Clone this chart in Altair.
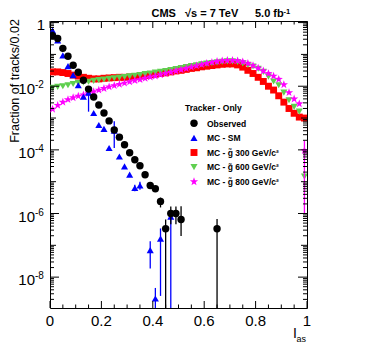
import altair as alt
import pandas as pd

W, H = 257, 287
FONT = "Liberation Sans"

# ---------------- data (log10 of fraction per 0.02 bin) ----------------
obs_x = [0.01, 0.03, 0.05, 0.07, 0.09, 0.11, 0.13, 0.15, 0.17, 0.19, 0.21, 0.23, 0.25,
         0.27, 0.29, 0.31, 0.33, 0.35, 0.37, 0.39, 0.41, 0.43, 0.45, 0.47, 0.49, 0.51, 0.65]
obs_log = [-0.41, -0.5, -0.81, -1.06, -1.34, -1.56, -1.81, -2.09, -2.34, -2.59, -2.84, -3.09,
           -3.375, -3.6, -3.84, -4.09, -4.31, -4.5, -4.78, -5.12, -5.22, -5.62, -6.48, -6.0,
           -6.0, -6.19, -6.48]
obs_err_x = [0.39, 0.41, 0.43, 0.45, 0.47, 0.49, 0.51, 0.65]
obs_err_hi = [-5.07, -5.17, -5.5, -6.19, -5.78, -5.78, -5.77, -6.17]
obs_err_lo = [-5.17, -5.28, -5.81, -12, -6.34, -6.34, -6.71, -12]

sm_x = [0.01, 0.03, 0.05, 0.07, 0.09, 0.11, 0.13, 0.15, 0.17, 0.19, 0.21, 0.23, 0.25, 0.27,
        0.29, 0.31, 0.33, 0.35, 0.39, 0.41, 0.43, 0.47]
sm_log = [-0.25, -0.56, -1.03, -1.37, -1.65, -1.97, -2.33, -2.2, -2.84, -3.22, -3.34, -3.94,
          -3.4, -4.21, -4.52, -4.78, -5.2, -5.12, -7.15, -8.67, -6.79, -6.1]
sm_err_x = [0.15, 0.25, 0.33, 0.35, 0.39, 0.41, 0.43, 0.47]
sm_err_hi = [-2.05, -3.1, -5.1, -5.0, -6.87, -8.34, -6.47, -6.0]
sm_err_lo = [-2.8, -3.94, -5.3, -5.25, -7.73, -12, -8.59, -12]

sig_x = [0.01, 0.03, 0.05, 0.07, 0.09, 0.11, 0.13, 0.15, 0.17, 0.19, 0.21, 0.23, 0.25, 0.27,
         0.29, 0.31, 0.33, 0.35, 0.37, 0.39, 0.41, 0.43, 0.45, 0.47, 0.49, 0.51, 0.53, 0.55,
         0.57, 0.59, 0.61, 0.63, 0.65, 0.67, 0.69, 0.71, 0.73, 0.75, 0.77, 0.79, 0.81, 0.83,
         0.85, 0.87, 0.89, 0.91, 0.93, 0.95, 0.97, 0.99]
g300_log = [-1.55, -1.55, -1.57, -1.6, -1.65, -1.68, -1.72, -1.75, -1.77, -1.77, -1.75, -1.74,
            -1.73, -1.72, -1.72, -1.71, -1.7, -1.68, -1.66, -1.64, -1.62, -1.6, -1.58, -1.55,
            -1.52, -1.5, -1.47, -1.44, -1.42, -1.39, -1.37, -1.35, -1.33, -1.31, -1.3, -1.3,
            -1.33, -1.4, -1.5, -1.6, -1.72, -1.85, -2.0, -2.12, -2.3, -2.5, -2.7, -2.85, -2.97,
            -3.0]
g600_log = [-2.05, -2.02, -2.0, -1.97, -1.93, -1.9, -1.88, -1.86, -1.83, -1.81, -1.79, -1.77,
            -1.75, -1.73, -1.71, -1.69, -1.67, -1.65, -1.62, -1.6, -1.57, -1.55, -1.52, -1.49,
            -1.46, -1.43, -1.4, -1.37, -1.34, -1.31, -1.29, -1.27, -1.25, -1.23, -1.22, -1.22,
            -1.24, -1.28, -1.33, -1.38, -1.45, -1.55, -1.7, -1.85, -1.97, -2.2, -2.44, -2.65,
            -2.8, -4.84]
g800_log = [-2.72, -2.6, -2.5, -2.42, -2.36, -2.31, -2.27, -2.22, -2.17, -2.12, -2.07, -2.02,
            -1.98, -1.94, -1.9, -1.86, -1.82, -1.79, -1.75, -1.71, -1.68, -1.64, -1.6, -1.56,
            -1.52, -1.48, -1.44, -1.4, -1.36, -1.32, -1.28, -1.25, -1.22, -1.2, -1.19, -1.19,
            -1.2, -1.23, -1.28, -1.35, -1.43, -1.52, -1.6, -1.68, -1.78, -1.95, -2.2, -2.4,
            -2.55, -4.02]
g800_err_x = [0.99]
g800_err_hi = [-3.7]
g800_err_lo = [-6.0]

legend_labels = ["Observed", "MC - SM", "MC - g\u0303 300 GeV/c\u00b2",
                 "MC - g\u0303 600 GeV/c\u00b2", "MC - g\u0303 800 GeV/c\u00b2"]
colors = ["black", "#0000ff", "#ff0000", "#5fcf4f", "#ff00ff"]
STAR = ("M0,-1 L0.235,-0.324 L0.951,-0.309 L0.380,0.124 L0.588,0.809 L0,0.4 "
        "L-0.588,0.809 L-0.380,0.124 L-0.951,-0.309 L-0.235,-0.324 Z")
shapes = ["circle", "triangle-up", "square", "triangle-down", STAR]
sizes = [55, 50, 48, 50, 75]

x_tick_labels = [0, 0.2, 0.4, 0.6, 0.8, 1]
y_label_exps = [-2, -4, -6, -8]

# ---------------- scales ----------------
xscale = alt.Scale(domain=[0, 1], nice=False, zero=False)
yscale = alt.Scale(type="log", domain=[10 ** -8.97, 10 ** 0.05], nice=False)


def pts(xv, lv):
    return pd.DataFrame({"x": xv, "y": [10 ** v for v in lv]})


def errs(xv, hi, lo):
    return pd.DataFrame({"x": xv, "hi": [10 ** v for v in hi], "lo": [10 ** v for v in lo]})


def point_layer(df, i):
    return alt.Chart(df).mark_point(filled=True, opacity=1, shape=shapes[i], size=sizes[i],
                                    color=colors[i], clip=True).encode(
        x=alt.X("x:Q", scale=xscale, axis=None),
        y=alt.Y("y:Q", scale=yscale, axis=None))


def err_layer(df, i):
    return alt.Chart(df).mark_rule(color=colors[i], strokeWidth=1.3, clip=True).encode(
        x=alt.X("x:Q", scale=xscale, axis=None),
        y=alt.Y("hi:Q", scale=yscale, axis=None), y2="lo:Q")


layers = []
# signals
layers.append(point_layer(pts(sig_x, g300_log), 2))
layers.append(point_layer(pts(sig_x, g600_log), 3))
layers.append(err_layer(errs(g800_err_x, g800_err_hi, g800_err_lo), 4))
layers.append(point_layer(pts(sig_x, g800_log), 4))
# SM
layers.append(err_layer(errs(sm_err_x, sm_err_hi, sm_err_lo), 1))
layers.append(point_layer(pts(sm_x, sm_log), 1))
# observed
layers.append(err_layer(errs(obs_err_x, obs_err_hi, obs_err_lo), 0))
layers.append(point_layer(pts(obs_x, obs_log), 0))

# ---------------- ticks (inside, ROOT style) ----------------
even_dec = [10.0 ** d for d in range(-8, 1, 2)]
odd_dec = [10.0 ** d for d in range(-7, 0, 2)]
minor_y = [k * 10.0 ** d for d in range(-9, 0) for k in range(2, 10)]
minor_y = [v for v in minor_y if 10 ** -8.97 < v < 10 ** 0.05]


def ytick(vals, L):
    df = pd.DataFrame({"v": vals})
    left = alt.Chart(df).mark_rule(color="black", strokeWidth=1).encode(
        y=alt.Y("v:Q", scale=yscale, axis=None), x=alt.value(0), x2=alt.value(L))
    right = alt.Chart(df).mark_rule(color="black", strokeWidth=1).encode(
        y=alt.Y("v:Q", scale=yscale, axis=None), x=alt.value(W), x2=alt.value(W - L))
    return [left, right]


layers += ytick(even_dec, 9) + ytick(odd_dec, 6) + ytick(minor_y, 4)

major_x = [0, 0.2, 0.4, 0.6, 0.8, 1.0]
minor_x = [0.05, 0.1, 0.15, 0.25, 0.3, 0.35, 0.45, 0.5, 0.55, 0.65, 0.7, 0.75, 0.85, 0.9, 0.95]


def xtick(vals, L):
    df = pd.DataFrame({"v": vals})
    bot = alt.Chart(df).mark_rule(color="black", strokeWidth=1).encode(
        x=alt.X("v:Q", scale=xscale, axis=None), y=alt.value(H), y2=alt.value(H - L))
    top = alt.Chart(df).mark_rule(color="black", strokeWidth=1).encode(
        x=alt.X("v:Q", scale=xscale, axis=None), y=alt.value(0), y2=alt.value(L))
    return [bot, top]


layers += xtick(major_x, 7) + xtick(minor_x, 3.5)

# ---------------- axis labels ----------------
xl = pd.DataFrame({"v": x_tick_labels, "t": ["0", "0.2", "0.4", "0.6", "0.8", "1"]})
layers.append(alt.Chart(xl).mark_text(font=FONT, fontSize=15, align="center",
                                      baseline="alphabetic", color="black").encode(
    x=alt.X("v:Q", scale=xscale, axis=None), y=alt.value(H + 18), text="t:N"))

yl = pd.DataFrame({"v": [10.0 ** e for e in y_label_exps],
                   "b": ["10"] * len(y_label_exps),
                   "s": ["-%d" % -e for e in y_label_exps]})
layers.append(alt.Chart(yl).mark_text(font=FONT, fontSize=15, align="right",
                                      baseline="alphabetic", dy=8, color="black").encode(
    y=alt.Y("v:Q", scale=yscale, axis=None), x=alt.value(-15), text="b:N"))
layers.append(alt.Chart(yl).mark_text(font=FONT, fontSize=10, align="left",
                                      baseline="alphabetic", dy=2, color="black").encode(
    y=alt.Y("v:Q", scale=yscale, axis=None), x=alt.value(-15), text="s:N"))
one = pd.DataFrame({"v": [1.0], "t": ["1"]})
layers.append(alt.Chart(one).mark_text(font=FONT, fontSize=15, align="right",
                                       baseline="alphabetic", dy=7.5, color="black").encode(
    y=alt.Y("v:Q", scale=yscale, axis=None), x=alt.value(-5), text="t:N"))


def label(text, x, y, size, weight="normal", align="left", angle=0, baseline="alphabetic"):
    kw = dict(font=FONT, fontSize=size, fontWeight=weight, align=align,
              baseline=baseline, color="black")
    if angle:
        kw["angle"] = angle
    return alt.Chart(pd.DataFrame({"t": [text]})).mark_text(**kw).encode(
        x=alt.value(x), y=alt.value(y), text="t:N")


# axis titles
layers.append(label("Fraction of tracks/0.02", -35, 60, 12.5, align="center",
                    angle=270, baseline="middle"))
layers.append(label("I", 243, 317, 14))
layers.append(label("as", 246.5, 321, 9))

# header
layers.append(label("CMS", 101.5, -4.5, 11, weight="bold"))
layers.append(label("\u221as = 7 TeV", 135, -4.5, 11, weight="bold"))
layers.append(label("5.0 fb", 205, -4.5, 11, weight="bold"))
layers.append(label("-1", 233.5, -7.5, 7.5, weight="bold"))

# legend
layers.append(label("Tracker - Only", 135, 90, 8.5, weight="bold"))
leg_y0 = 102.3
leg_dy = 14.6
for i, txt in enumerate(legend_labels):
    yy = leg_y0 + i * leg_dy
    layers.append(alt.Chart(pd.DataFrame({"t": [txt]})).mark_point(
        filled=True, opacity=1, shape=shapes[i], size=sizes[i], color=colors[i]).encode(
        x=alt.value(144), y=alt.value(yy)))
    layers.append(label(txt, 157, yy + 3.2, 8.5, weight="bold"))

chart = alt.layer(*layers).properties(
    width=W, height=H, autosize="none",
    padding={"left": 42, "top": 13, "right": 51, "bottom": 35},
    background="white",
).configure_view(stroke="black", strokeWidth=1)

chart.save("out.html", embed_options={"renderer": "svg", "actions": False})
